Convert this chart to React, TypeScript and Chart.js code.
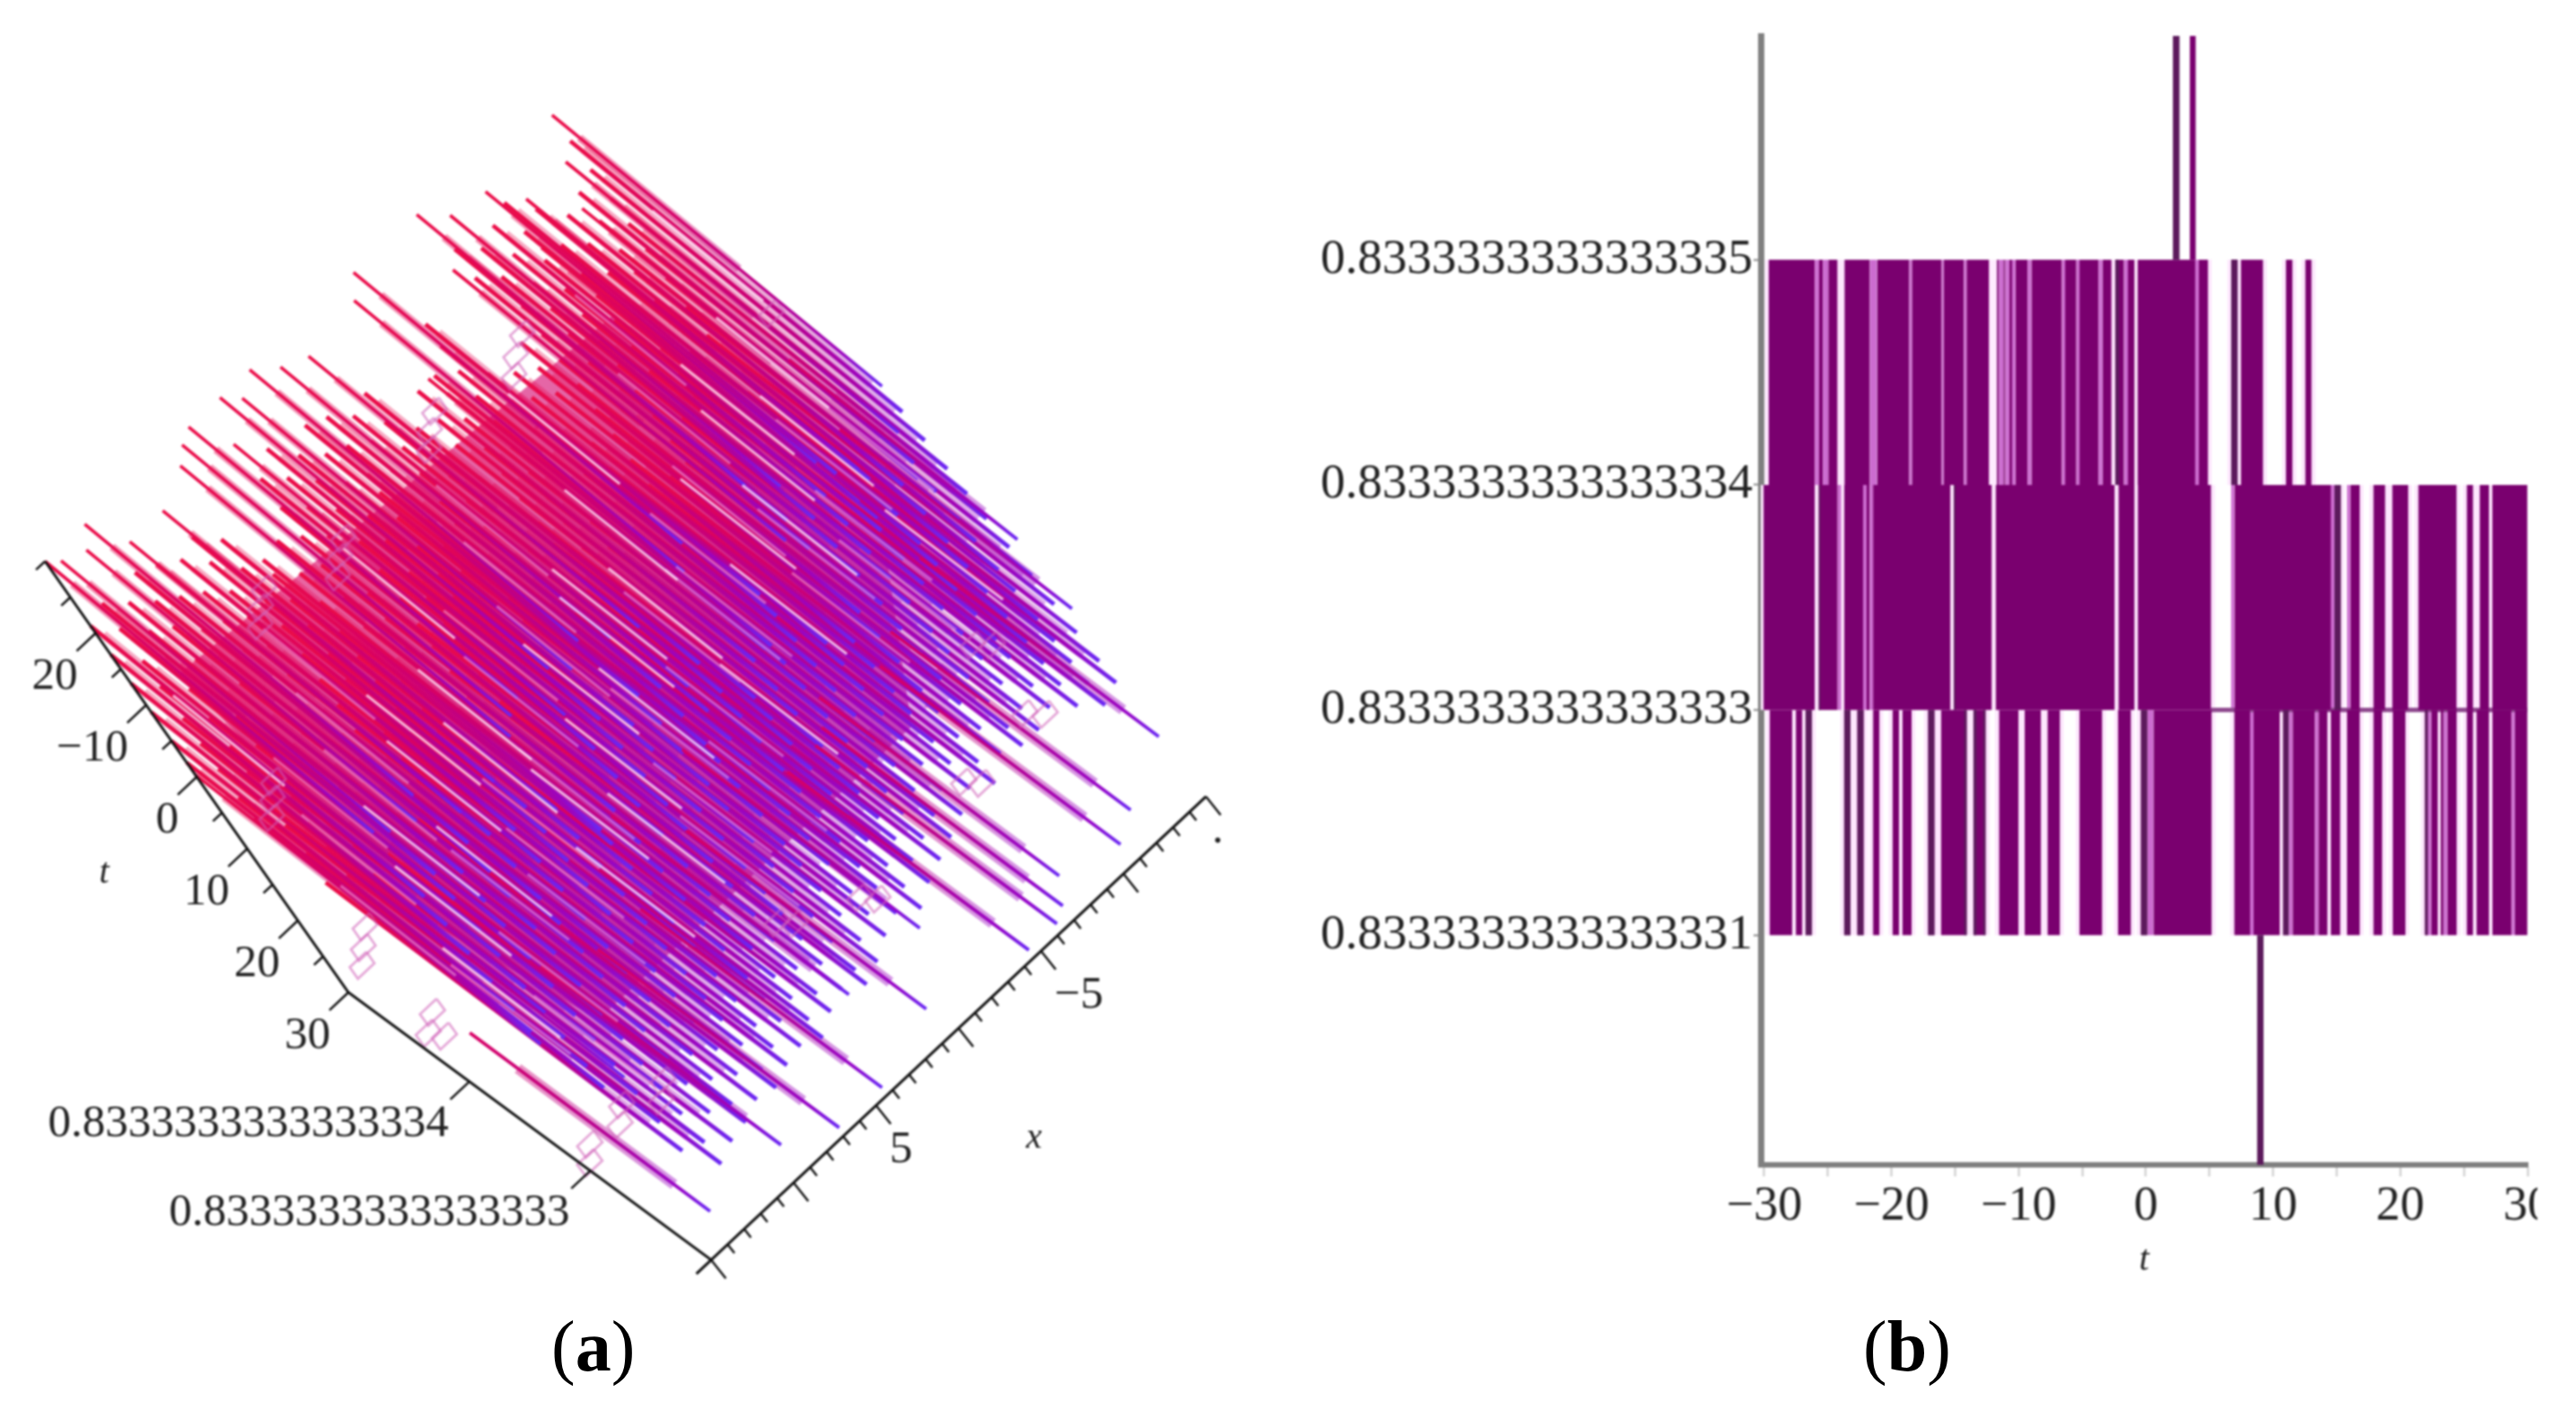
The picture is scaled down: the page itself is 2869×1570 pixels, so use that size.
import React, { useEffect, useRef } from "react";
import { Chart, registerables } from "chart.js";

Chart.register(...registerables);

/* ---------- panel (a): surface read as strands (t, x, level high -> level low) ---------- */
const rowX = [15,14,13,12,11,10,9,8,7,6,5,4,3,2,1,0,-1,-2,-3,-4,-5,-6,-7,-8,-9,-10,-11,-12,-13,-14,-15];
const rowT = [
  [-21,-17,-13,-9,-5,-2],
  [-22,-18.5,-14,-10.5,-6,-2.5,1,5,8],
  [-20,-16,-12.5,-8,-4,0,3.5,7,11,15,19],
  [-22,-18,-14.5,-10,-6.5,-2,2,5.5,9,12.5,16,20,23],
  [-21,-16.5,-12,-8.5,-4.5,-1,3,6.5,10.5,14,18,22],
  [-19.5,-15,-11,-7,-3,0.5,4.5,8,12,15.5,19,21.5],
  [-20.5,-17,-13,-9.5,-5.5,-1.5,2.5,6,9.5,13.5,17,20.5],
  [-18,-14,-10,-6,-2,1.5,5,8.5,11.5,15,18.5,21],
  [-13,-11,-7.5,-4,0,3.5,7.5,11,14.5,17.5,20],
  [-13.5,-9,-5,-1,2.5,6,10,13,16,19.5],
  [-20,-16,-12,-8,-3.5,0.5,4,8,12,15,18,20.5],
  [-22,-18,-14,-10,-6.5,-2,1.5,5.5,9,13,16.5,19],
  [-19,-15.5,-11.5,-7,-3,1,4.5,7.5,11,14.5,18],
  [-21,-17,-13,-8.5,-5,-0.5,3,6.5,10,13.5,17.5,19.5],
  [-20,-16,-12,-9.5,-6,-2,2,5,8.5,12,15.5,18.5],
  [-18,-14.5,-10.5,-7,-3.5,0,3.5,7,11,14,17],
  [-19,-15,-11.5,-8,-4,-1,2.5,6,9.5,12.5,16],
  [-12,-9,-5.5,-2,1.5,4.5,8,11.5,14.5,17.5],
  [-15,-11,-7.5,-3,0,3.5,7,10,13,16],
  [-15,-12.5,-9,-5,-1.5,2,5.5,8.5,12,15],
  [-20,-17,-13.5,-10,-6.5,-3,0.5,4,7.5,11,14],
  [-11,-8,-4.5,-1,2.5,6,9.5,13],
  [-9,-5.5,-2,1,5,8,11.5],
  [-24,-20,-11,-7.5,-4,0,3,6.5,10,13],
  [-22,-18,-14,-10,-6.5,-3,0.5,4,7.5,11],
  [-23,-19,-15,-11.5,-8,-4,-1,2.5,6,9.5,12],
  [-24,-20,-16,-12,-8.5,-5,-1.5,2,5.5,9,12],
  [-21,-16,-12,-9,-5.5,-2,1.5,4,8,11],
  [-18,-14,-10,-6.5,-3,0.5,4,7,10,13],
  [-19,-15,-11,-8,-4,-1,3,6,9,12,15],
  [-24,-20,-16,-12.5,-9,-5,-1,3,7,11,14],
];
const upperTips = [[-27.6,-15],[-22.6,-14.3],[-17.4,-13.7],[-22.6,-11.9],[-26.4,-10.6],[-17.3,-11.2],[-27.2,-8.7],[-29.9,-7.5],[-22.4,-7.4],[-30,-3.7],[-27.6,-3],[-15.2,-3.7],[-26.5,0.1],[-27.8,1.4],[-30,2.6],[-28.2,3.6],[-30,4.4],[-25,5.1],[-30,6.3],[-29,7],[-27.4,7.6],[-25,9.4],[-25,11.4],[-30,12.6],[-27.7,13.2],[-28.8,14.4],[-30,15],[-0.3,15],[8.7,13]];
const lowerTips = [[-5,-15.5],[4.7,-15.5],[21.6,-15],[25.4,-12],[27.4,-10.7],[25.3,-7.7],[28,-7],[29,-6.3],[29,-4.6],[19,-1.4],[26,0.6],[29,4.3],[19,2.9],[29,6.9],[26,9.4],[26,13.7]];
const coreOutline = [[-10,13,3],[-6,-12,3],[5,-12,1.1],[15,-8,0.8],[15,11,0.8],[8,13,1.8]];
const meshCells = [
  [-11.1,-8,3],[-9.5,-7.4,3],[-12.4,-8.8,3],
  [-11.5,-2.9,3],[-10,-2.4,3],[-12.8,-3.6,3],
  [-8,3.6,3],[-6.5,4.2,3],[-9.3,3,3],
  [-10,7.8,3],[-8.5,8.3,3],[-11.3,7.2,3],
  [7,12.3,3],[8.5,12.8,3],[5.6,11.8,3],
  [26.6,12.8,3],[25,12.2,3],[28,13.3,3],
  [22,14.7,2],[23.5,14.2,2],[20.6,14,2],
  [28.5,14.3,1],[27,13.8,1],[27.7,12.2,1],[26.2,11.6,1],[28.9,10.1,1],[27.4,9.5,1],
  [26.7,-13.9,1],[25.1,-13.2,1],[17,-13.9,1],[15.5,-13.2,1],
  [29,-3,1],[27.5,-2.4,1],[24.7,0.6,1],[23.2,1.2,1],[27.5,-9.8,1],[26,-9.2,1],[-27,-15,1],
];
const tLabels = [["20",-20],["\u221210",-10],["0",0],["10",10],["20",20],["30",30]];
const tTicks = [-30,-25,-20,-15,-10,-5,0,5,10,15,20,25,30];
const xLabels = [["\u22125",-5],["5",5]];
const xTicks = [15,14,13,12,11,10,9,8,7,6,5,4,3,2,1,0,-1,-2,-3,-4,-5,-6,-7,-8,-9,-10,-11,-12,-13,-14,-15];
const uLabels = [["0.8333333333333334",2],["0.8333333333333333",1]];
const colorLevels = [0,0.25,1,2,3];
const levelColors = [[104,40,245],[150,5,200],[186,0,140],[216,0,100],[236,12,70]];

/* ---------- panel (b): filled t-intervals between neighbouring levels ---------- */
const yTickLabels = ["0.8333333333333331","0.8333333333333333","0.8333333333333334","0.8333333333333335"];
const topBand = [[-29.65,-26.03],[-25.7,-25.4],[-24.97,-24.24],[-23.7,-21.7],[-21.14,-18.6],[-18.4,-16.05],[-15.9,-14.3],[-14.1,-12.33],[-11.71,-11.55],[-11.2,-11.05],[-10.74,-10.52],[-10.25,-9.3],[-9,-6.6],[-6.35,-5.46],[-5.22,-3.72],[-3.41,-2.7],[-2.42,-1.72],[-1.41,-0.89],[-0.66,3.88],[4.16,4.89],[6.7,7.22],[7.46,9.22],[11.01,11.53],[12.52,13.03]];
const topPale = [[-26.03,-25.7],[-25.4,-24.97],[-21.7,-21.14],[-18.6,-18.4],[-16.05,-15.9],[-14.3,-14.1],[-11.55,-11.2],[-11.05,-10.74],[-10.52,-10.25],[-9.3,-9],[-6.6,-6.35],[-5.46,-5.22],[-3.72,-3.41],[-1.72,-1.41],[3.88,4.16]];
const midBand = [[-30.06,-26.02],[-25.73,-24.23],[-23.71,-22.23],[-21.95,-21.71],[-21.45,-15.36],[-15.1,-12.11],[-11.81,-2.45],[-2.16,-0.89],[-0.63,5.13],[6.96,14.54],[14.82,15.34],[16.07,16.82],[17.88,18.82],[19.36,20.63],[21.41,24.42],[25.22,25.73],[26.23,26.98],[27.22,29.99]];
const midPale = [[-24.23,-23.95],[-22.23,-21.95],[-21.71,-21.45],[6.7,6.96],[14.54,14.82],[15.81,16.07]];
const lowBand = [[-29.57,-27.81],[-27.52,-27.01],[-26.77,-26.25],[-23.73,-23.22],[-22.7,-22.18],[-21.45,-20.94],[-19.92,-19.41],[-19.15,-18.42],[-17.13,-16.61],[-16.11,-14.07],[-13.57,-12.59],[-11.55,-10.02],[-9.53,-8.26],[-7.74,-6.75],[-5.22,-3.43],[-2.19,-1.17],[-0.4,0.12],[0.59,5.18],[6.94,8.19],[8.47,10.52],[10.77,11.24],[11.53,13.29],[13.57,14.28],[14.54,15.29],[15.81,16.82],[17.88,18.58],[19.41,20.4],[21.92,22.16],[22.42,22.94],[23.17,23.41],[23.69,24.44],[25.22,25.73],[25.99,26.98],[27.24,28.75],[29,29.99]];
const lowPale = [[0.12,0.59],[8.19,8.47],[11.24,11.53],[13.29,13.57],[22.16,22.42],[23.41,23.69],[28.75,29]];
const lowDark = [[-26.77,-26.25],[-23.73,-23.22],[-22.7,-22.18],[-17.13,-16.61],[-0.4,0.12],[10.77,11.24],[21.92,22.16],[-13.57,-13.3],[-12.8,-12.59],[-14.3,-14.07]];
const midDark = [[14.82,15.34],[-25.73,-25.58],[-15.1,-14.96]];
const topDark = [[6.7,7.22],[-2.42,-2.1]];
const spikesUp = [[2.12,2.66],[3.44,3.93]];
const spikesDown = [[8.73,9.25]];
const flatLine = [5.1,30];

const xAxisTicks = [-30,-25,-20,-15,-10,-5,0,5,10,15,20,25,30];

const SERIF = '"Liberation Serif"';

function eu(t: number) {
  const f = (30 - t) / 60;
  return [134.7 - 12.7 * f, 99.3 + 1.4 * f];
}
function project(t: number, x: number, u: number) {
  const e = eu(t);
  return {
    x: 388 + (t - 30) * 5.63 + (15 - x) * 18.37 + (3 - u) * e[0],
    y: 1105 + (t - 30) * 8.0 + (15 - x) * -17.2 + (3 - u) * e[1],
  };
}
function colorAt(u: number, a: number) {
  const v = Math.max(0, Math.min(3, u));
  let i = 0;
  while (i < colorLevels.length - 2 && v > colorLevels[i + 1]) i++;
  const k = (v - colorLevels[i]) / (colorLevels[i + 1] - colorLevels[i]);
  const c = [0, 1, 2].map((j) => Math.round(levelColors[i][j] * (1 - k) + levelColors[i + 1][j] * k));
  return `rgba(${c[0]},${c[1]},${c[2]},${a})`;
}

function strand(g: CanvasRenderingContext2D, t: number, x: number, hi: number, lo: number, width: number, alpha: number, order: number) {
  const p = project(t, x, hi);
  const q = project(t, x, lo);
  const grad = g.createLinearGradient(p.x, p.y, q.x, q.y);
  for (let i = 0; i <= 8; i++) grad.addColorStop(i / 8, colorAt(hi + ((lo - hi) * i) / 8, alpha));
  return { data: [p, q], borderColor: grad, borderWidth: width, pointRadius: 0, order, tension: 0, fill: false, borderCapStyle: "butt" };
}
function seg(points: { x: number; y: number }[], color: string, width: number, order = 0) {
  return { data: points, borderColor: color, borderWidth: width, pointRadius: 0, order, tension: 0, fill: false };
}

function buildLeft(g: CanvasRenderingContext2D) {
  const ds: any[] = [];
  // dense core of the surface, seen through the strands
  const coreFill = g.createLinearGradient(443, 326, 1127, 830);
  coreFill.addColorStop(0, "rgba(226,0,92,0.6)");
  coreFill.addColorStop(0.5, "rgba(194,0,125,0.6)");
  coreFill.addColorStop(1, "rgba(170,0,160,0.6)");
  const corePts = coreOutline.map(([t, x, u]) => project(t, x, u));
  ds.push({ data: [...corePts, corePts[0]], borderWidth: 0, borderColor: "transparent", backgroundColor: coreFill, fill: "shape", pointRadius: 0, tension: 0, order: 40 });
  // translucent wedges
  upperTips.forEach(([t, x]) => ds.push(strand(g, t, x, 2.75, 1.3, 9, 0.42, 30)));
  lowerTips.forEach(([t, x]) => ds.push(strand(g, t, x, 1.6, 0.3, 12, 0.42, 30)));
  rowX.forEach((x, i) => {
    rowT[i].forEach((t) => ds.push(strand(g, t - 0.7, x, 2.85, 0.25, 9, 0.34, 25)));
  });
  // solid strands
  rowX.forEach((x, i) => rowT[i].forEach((t) => ds.push(strand(g, t, x, 3, 0, 4.7, 1, 18))));
  upperTips.forEach(([t, x]) => ds.push(strand(g, t, x, 3, 0, 3.6, 1, 15)));
  lowerTips.forEach(([t, x]) => ds.push(strand(g, t, x, 2, 0, 3.8, 1, 15)));
  // light streaks over the solid strands
  rowX.forEach((x, i) => {
    rowT[i].forEach((t, j) => {
      if ((i + j) % 5 === 0) {
        const a = project(t + 0.9, x, 2.3 - (j % 3) * 0.3);
        const b = project(t + 0.9, x, 1.3 - (j % 3) * 0.3);
        ds.push(seg([a, b], (i + j) % 10 === 0 ? "rgba(255,225,245,0.8)" : "rgba(238,150,215,0.6)", 3, 12));
      }
    });
  });
  // mesh cells
  meshCells.forEach(([t, x, u]) => {
    const pts = [project(t, x, u), project(t + 1.6, x, u), project(t + 1.6, x + 1, u), project(t, x + 1, u), project(t, x, u)];
    ds.push(seg(pts, "rgba(208,96,184,0.55)", 2.8, 10));
  });
  // axes
  ds.push(seg([project(-30, 15, 3), project(30, 15, 3), project(30, 15, 0), project(30, -15, 0)], "#111", 3, 1));
  tTicks.forEach((t) => {
    const big = t % 10 === 0 && t !== -30;
    ds.push(seg([project(t, 15, 3), project(t, 15 + (big ? 1.15 : 0.55), 3)], "#111", 2.4, 1));
  });
  xTicks.forEach((x) => {
    const big = x % 5 === 0;
    ds.push(seg([project(30, x, 0), project(30 + (big ? 2.6 : 1.2), x, 0)], "#111", 2.4, 1));
  });
  uLabels.forEach(([, u]) => ds.push(seg([project(30, 15, u as number), project(30, 16.15, u as number)], "#111", 2.4, 1)));
  ds.push(seg([project(30, 15, 0), project(30, 15.9, 0)], "#111", 3, 1));
  return ds;
}

const labelPlugin = {
  id: "axisText",
  afterDatasetsDraw(chart: any) {
    const c = chart.ctx;
    c.save();
    c.fillStyle = "#222";
    c.textBaseline = "middle";
    c.font = `51px ${SERIF}`;
    c.textAlign = "right";
    tLabels.forEach(([s, t]) => {
      const p = project(t as number, 15, 3);
      c.fillText(s, p.x - 20, p.y + 49);
    });
    uLabels.forEach(([s, u]) => {
      const p = project(30, 15, u as number);
      c.fillText(s, p.x - 23, p.y + 47);
    });
    c.textAlign = "left";
    xLabels.forEach(([s, x]) => {
      const p = project(30, x as number, 0);
      c.fillText(s, p.x + 15, p.y + 50);
    });
    c.font = `italic 40px ${SERIF}`;
    c.textAlign = "center";
    const tp = project(0, 15, 3);
    c.fillText("t", tp.x - 103, tp.y + 107);
    const xp = project(30, 0, 0);
    c.fillText("x", xp.x + 84, xp.y + 123);
    c.font = `50px ${SERIF}`;
    const dp = project(30, -15, 0);
    c.fillText(".", dp.x + 13, dp.y + 38);
    c.restore();
  },
};

function rect(a: number, b: number, lo: number, hi: number, color: string, order: number) {
  return {
    data: [{ x: a, y: hi }, { x: b, y: hi }],
    borderWidth: 0,
    borderColor: color,
    backgroundColor: color,
    pointRadius: 0,
    tension: 0,
    fill: { value: lo },
    order,
  };
}
const MAIN = "#7a006f";
const DARK = "#5c1a5c";
const PALE = "#cc6cd0";
const HALO = "#fde6fd";

function buildRight() {
  const ds: any[] = [];
  const bands: [number[][], number[][], number[][], number, number][] = [
    [lowBand, lowPale, lowDark, 0, 1],
    [midBand, midPale, midDark, 1, 2],
    [topBand, topPale, topDark, 2, 3],
  ];
  bands.forEach(([solid, pale, dark, lo, hi]) => {
    solid.forEach(([a, b]) => ds.push(rect(a - 0.3, b + 0.3, lo, hi, HALO, 40)));
    pale.forEach(([a, b]) => ds.push(rect(a, b, lo, hi, PALE, 30)));
    solid.forEach(([a, b]) => ds.push(rect(a, b, lo, hi, MAIN, 20)));
    dark.forEach(([a, b]) => ds.push(rect(a, b, lo, hi, DARK, 10)));
  });
  spikesUp.forEach(([a, b], i) => ds.push(rect(a, b, 3, 4, i === 0 ? DARK : MAIN, 10)));
  spikesDown.forEach(([a, b]) => ds.push(rect(a, b, -1.02, 0, DARK, 10)));
  ds.push({
    data: [{ x: flatLine[0], y: 1 }, { x: flatLine[1], y: 1 }],
    borderColor: "#8f4a8f",
    borderWidth: 5,
    pointRadius: 0,
    fill: false,
    order: 25,
  });
  return ds;
}

export default function App() {
  const leftRef = useRef<HTMLCanvasElement>(null);
  const rightRef = useRef<HTMLCanvasElement>(null);

  useEffect(() => {
    const g = leftRef.current!.getContext("2d")!;
    const left = new Chart(leftRef.current!, {
      type: "line",
      data: { datasets: buildLeft(g) },
      options: {
        animation: false,
        responsive: false,
        devicePixelRatio: 1,
        events: [],
        layout: { padding: 0 },
        plugins: { legend: { display: false }, tooltip: { enabled: false } },
        scales: {
          x: { type: "linear", min: 0, max: 1450, display: false },
          y: { type: "linear", min: 0, max: 1570, reverse: true, display: false },
        },
      },
      plugins: [labelPlugin],
    } as any);

    const right = new Chart(rightRef.current!, {
      type: "line",
      data: { datasets: buildRight() },
      options: {
        animation: false,
        responsive: false,
        devicePixelRatio: 1,
        events: [],
        layout: { padding: { left: 0, right: 11, top: 40, bottom: 143 } },
        plugins: { legend: { display: false }, tooltip: { enabled: false } },
        scales: {
          x: {
            type: "linear",
            min: -30.28,
            max: 30,
            afterBuildTicks: (s: any) => { s.ticks = xAxisTicks.map((v) => ({ value: v })); },
            afterFit: (s: any) => { s.height = 130; s.paddingLeft = 0; s.paddingRight = 0; },
            border: { color: "#808080", width: 6 },
            grid: { display: true, drawOnChartArea: false, drawTicks: true, tickLength: 13, color: "#c8c8c8", tickWidth: 2 },
            ticks: {
              autoSkip: false,
              maxRotation: 0,
              padding: 1,
              color: "#222",
              font: { family: SERIF, size: 54 },
              callback: (v: any) => (Number(v) % 10 !== 0 ? "" : Number(v) < 0 ? "\u2212" + Math.abs(Number(v)) : String(v)),
            },
            title: { display: true, text: "t", color: "#222", font: { family: SERIF, size: 40, style: "italic" }, padding: { top: 0, bottom: 0 } },
          },
          y: {
            type: "linear",
            min: -1.02,
            max: 3.994,
            afterBuildTicks: (s: any) => { s.ticks = yTickLabels.map((_, i) => ({ value: i })); },
            afterFit: (s: any) => { s.width = 491; s.paddingTop = 0; s.paddingBottom = 0; },
            border: { color: "#808080", width: 7 },
            grid: { display: true, drawOnChartArea: false, drawTicks: true, tickLength: 8, color: "#8a8a8a", tickWidth: 2 },
            ticks: {
              autoSkip: false,
              padding: 1,
              color: "#222",
              font: { family: SERIF, size: 55 },
              callback: (v: any) => yTickLabels[Number(v)] ?? "",
            },
          },
        },
      },
    } as any);

    return () => {
      left.destroy();
      right.destroy();
    };
  }, []);

  const caption: React.CSSProperties = { position: "absolute", top: 1451, fontFamily: SERIF, fontSize: 80, lineHeight: "96px", color: "#000", whiteSpace: "nowrap" };
  return (
    <div style={{ position: "absolute", left: 0, top: 0, width: 2869, height: 1570, background: "#fff", overflow: "hidden" }}>
      <canvas ref={leftRef} width={1450} height={1570} style={{ position: "absolute", left: 0, top: 0, filter: "blur(0.9px)" }} />
      <canvas ref={rightRef} width={1356} height={1570} style={{ position: "absolute", left: 1470, top: 0, filter: "blur(0.9px)" }} />
      <div style={{ ...caption, left: 614 }}>(<b>a</b>)</div>
      <div style={{ ...caption, left: 2075 }}>(<b>b</b>)</div>
    </div>
  );
}
